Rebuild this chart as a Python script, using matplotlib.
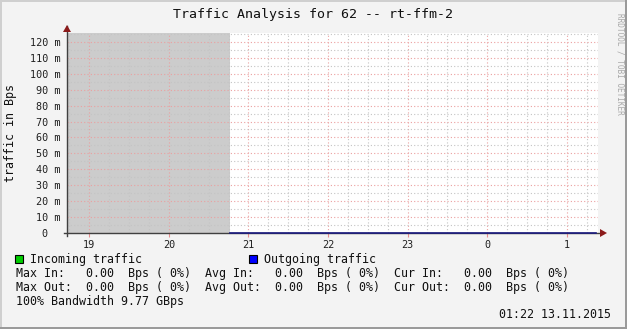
import matplotlib
matplotlib.use("Agg")
import matplotlib.pyplot as plt
from matplotlib.patches import Rectangle, Polygon
from matplotlib.ticker import MultipleLocator, FixedLocator

# ---- data ----
title = "Traffic Analysis for 62 -- rt-ffm-2"
ylabel = "traffic in Bps"
hour_ticks = [19, 20, 21, 22, 23, 24, 25]
hour_labels = ["19", "20", "21", "22", "23", "0", "1"]
y_ticks = [0, 10, 20, 30, 40, 50, 60, 70, 80, 90, 100, 110, 120]
y_labels = ["0  ", "10 m", "20 m", "30 m", "40 m", "50 m", "60 m", "70 m",
            "80 m", "90 m", "100 m", "110 m", "120 m"]
x_range = [18.7197, 25.393]
y_range = [0, 125.6]
unknown_span = [18.7197, 20.764]
times = [20.764, 25.367]
incoming = [0.0, 0.0]
outgoing = [0.0, 0.0]
legend_in = "Incoming traffic"
legend_out = "Outgoing traffic"
stats_rows = [
    "Max In:   0.00  Bps ( 0%)  Avg In:   0.00  Bps ( 0%)  Cur In:   0.00  Bps ( 0%)",
    "Max Out:  0.00  Bps ( 0%)  Avg Out:  0.00  Bps ( 0%)  Cur Out:  0.00  Bps ( 0%)",
    "100% Bandwidth 9.77 GBps",
]
timestamp = "01:22 13.11.2015"
watermark = "RRDTOOL / TOBI OETIKER"

W, H = 627, 329
fig = plt.figure(figsize=(W / 100, H / 100), dpi=100)
fig.patch.set_facecolor("#f3f3f3")
mono = "DejaVu Sans Mono"

def fx(px):
    return px / W

def fy(py):
    return 1 - py / H

# frame (3D border)
fig.add_artist(Rectangle((0, fy(2)), 1, 2 / H, transform=fig.transFigure, color="#cfcfcf", lw=0))
fig.add_artist(Rectangle((0, 0), 2 / W, 1, transform=fig.transFigure, color="#cfcfcf", lw=0))
fig.add_artist(Rectangle((0, 0), 1, 2 / H, transform=fig.transFigure, color="#9a9a9a", lw=0))
fig.add_artist(Rectangle((1 - 2 / W, 0), 2 / W, 1, transform=fig.transFigure, color="#9a9a9a", lw=0))

L, R, T, B = 67, 598, 33, 233
ax = fig.add_axes([fx(L), fy(B), (R - L) / W, (B - T) / H])
ax.set_facecolor("white")
ax.set_xlim(*x_range)
ax.set_ylim(*y_range)
for s in ax.spines.values():
    s.set_visible(False)

# unknown area
ax.axvspan(unknown_span[0], unknown_span[1], color="#cccccc", lw=0, zorder=1)

# grid
ax.xaxis.set_major_locator(FixedLocator(hour_ticks))
ax.xaxis.set_minor_locator(MultipleLocator(0.25))
ax.yaxis.set_major_locator(FixedLocator(y_ticks))
ax.yaxis.set_minor_locator(MultipleLocator(5))
ax.grid(which="minor", color="#c4c4c4", ls=(0, (1, 2)), lw=0.8, zorder=2)
ax.grid(which="major", color="#eba0a0", ls=(0, (1, 2)), lw=0.8, zorder=3)
ax.set_xticklabels(hour_labels)
ax.set_yticklabels(y_labels)
ax.tick_params(which="both", length=0)
ax.tick_params(axis="x", which="major", length=3, color="#e89090", pad=2)
for lab in ax.get_xticklabels() + ax.get_yticklabels():
    lab.set_fontfamily(mono)
    lab.set_fontsize(7.3)
    lab.set_color("#202020")
ax.tick_params(axis="y", pad=4.5)

# data
ax.fill_between(times, incoming, color="#00cc00", zorder=4, lw=0)

# axes lines & arrows
axis_c = "#404040"
ax.plot([x_range[0], x_range[0]], [-2, 130], color=axis_c, lw=1.0, clip_on=False, zorder=6)
ax.plot([18.68, 25.45], [0, 0], color=axis_c, lw=1.0, clip_on=False, zorder=4.5)
ax.plot(times, outgoing, color="#1a1a80", lw=1.2, zorder=5.5, clip_on=False)
arrow_c = "#8b1a1a"
fig.add_artist(Polygon([[fx(63), fy(32)], [fx(71), fy(32)], [fx(67), fy(25)]],
                       closed=True, transform=fig.transFigure, color=arrow_c, lw=0))
fig.add_artist(Polygon([[fx(600), fy(229)], [fx(600), fy(237)], [fx(607), fy(233)]],
                       closed=True, transform=fig.transFigure, color=arrow_c, lw=0))

# texts
fig.text(fx(313), fy(14.5), title, fontfamily=mono, fontsize=9.5, ha="center", va="center", color="#101010")
fig.text(fx(11), fy(133), ylabel, fontfamily=mono, fontsize=8.4, rotation=90, ha="center", va="center", color="#101010")
fig.text(fx(620), fy(64), watermark, fontfamily=mono, fontsize=5.6, rotation=-90, ha="center", va="center", color="#a8a8a8")

# legend
fig.add_artist(Rectangle((fx(15), fy(263)), 8 / W, 8 / H, transform=fig.transFigure,
                         facecolor="#00cc00", edgecolor="#000000", lw=0.8))
fig.text(fx(30), fy(259), legend_in, fontfamily=mono, fontsize=8.4, ha="left", va="center", color="#101010")
fig.add_artist(Rectangle((fx(249), fy(263)), 8 / W, 8 / H, transform=fig.transFigure,
                         facecolor="#0000ff", edgecolor="#000000", lw=0.8))
fig.text(fx(264), fy(259), legend_out, fontfamily=mono, fontsize=8.4, ha="left", va="center", color="#101010")
for i, row in enumerate(stats_rows):
    fig.text(fx(16), fy(273.3 + 14 * i), row, fontfamily=mono, fontsize=8.4, ha="left", va="center", color="#101010")
fig.text(fx(611), fy(315), timestamp, fontfamily=mono, fontsize=8.4, ha="right", va="center", color="#101010")

fig.savefig("out.png", dpi=100, facecolor=fig.get_facecolor())
